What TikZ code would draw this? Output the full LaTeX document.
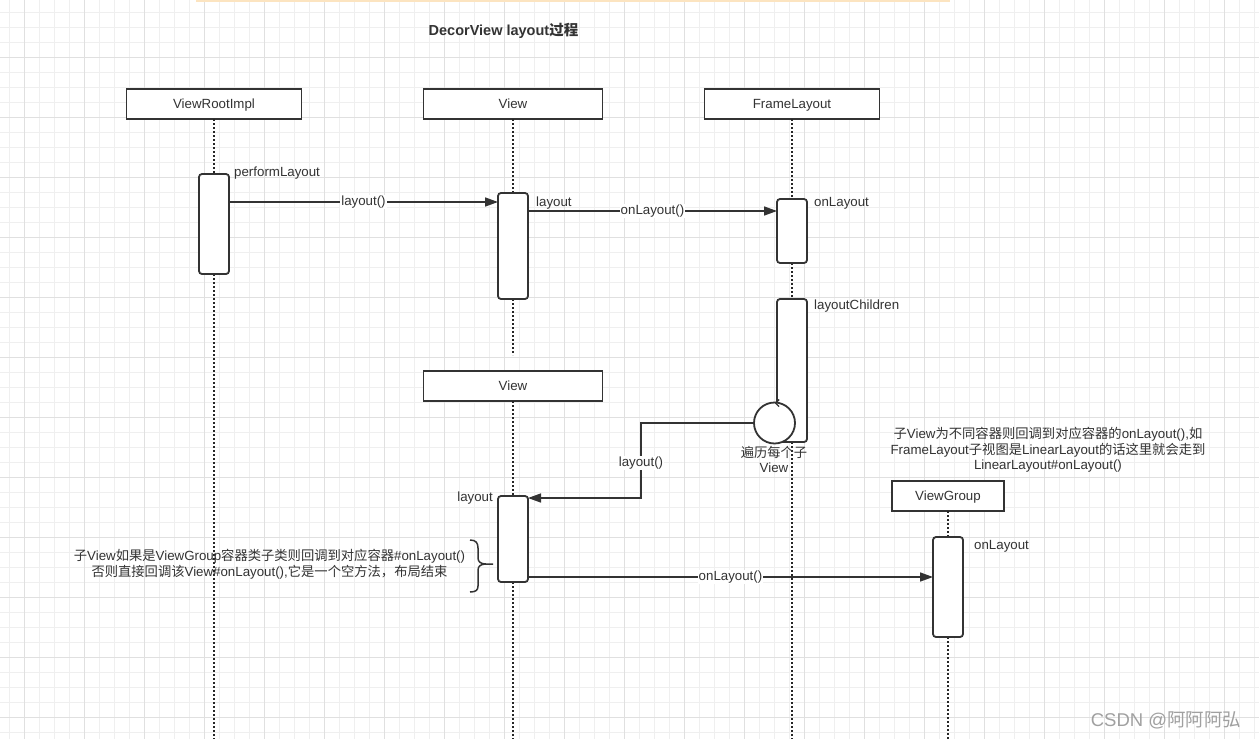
\documentclass[tikz,border=0pt]{standalone}
\usepackage{fontspec}
\setmainfont{Liberation Sans}
\newfontfamily\zhfont{Noto Sans CJK SC}
\newcommand\zh[1]{{\zhfont #1}}
\usetikzlibrary{arrows.meta,calc}
\definecolor{ink}{HTML}{333333}
\definecolor{gminor}{HTML}{EFEFEF}
\definecolor{gmajor}{HTML}{E0E0E0}
\definecolor{band}{HTML}{FCE4C0}
\definecolor{wm}{HTML}{A0A0A0}
\begin{document}
\begin{tikzpicture}[x=1pt,y=-1pt,
  every node/.style={text=ink, font=\fontsize{13.3}{15.5}\selectfont},
  header/.style={draw=ink, line width=1.6pt, fill=white, minimum height=30pt, inner sep=0pt, outer sep=0pt, text height=9.6pt, text depth=0pt},
  act/.style={draw=ink, line width=1.8pt, fill=white, rounded corners=3pt, minimum width=30pt, inner sep=0pt, outer sep=0pt, anchor=north west},
  life/.style={draw=black!85, line width=1.9pt, dash pattern=on 2pt off 2pt},
  msg/.style={draw=ink, line width=1.5pt, -{Triangle[length=13pt,width=9pt]}},
  lbl/.style={fill=white, inner sep=1pt},
  txt/.style={inner sep=0pt},
]
\useasboundingbox (0,0) rectangle (1259,739);
\fill[white] (0,0) rectangle (1259,739);
% grid
\foreach \x in {9.3,24.3,...,1259} \draw[gminor, line width=0.9pt] (\x,0) -- (\x,739);
\foreach \y in {12.7,27.7,...,739} \draw[gminor, line width=0.9pt] (0,\y) -- (1259,\y);
\foreach \x in {24.3,84.3,...,1259} \draw[gmajor, line width=0.9pt] (\x,0) -- (\x,739);
\foreach \y in {57.7,117.7,...,739} \draw[gmajor, line width=0.9pt] (0,\y) -- (1259,\y);
\fill[band] (196,0) rectangle (950,1.6);

% title
\node[txt, font=\fontsize{14.5}{17}\selectfont\bfseries] (title) at (503.5,31) {DecorView layout\zh{过程}};

% headers
\node[header, minimum width=175pt] (vri) at (214,104) {ViewRootImpl};
\node[header, minimum width=179pt] (v1) at (513,104) {View};
\node[header, minimum width=175pt] (fl) at (792,104) {FrameLayout};
\node[header, minimum width=179pt] (v2) at (513,386) {View};
\node[header, minimum width=112pt] (vg) at (948,496) {ViewGroup};

% activation placeholders (for lifelines)
\path (199,174) node[act, draw=none, fill=none, minimum height=100pt] (a1) {};
\path (498,193) node[act, draw=none, fill=none, minimum height=106pt] (a2) {};
\path (777,199) node[act, draw=none, fill=none, minimum height=64pt] (a3) {};
\path (777,299) node[act, draw=none, fill=none, minimum height=143pt] (a4) {};
\path (498,496) node[act, draw=none, fill=none, minimum height=86pt] (a5) {};
\path (933,537) node[act, draw=none, fill=none, minimum height=100pt] (a6) {};

% lifelines
\draw[life] (vri.south) -- (vri.south |- a1.north);
\draw[life] (a1.south) -- (a1.south |- 0,739);
\draw[life] (v1.south) -- (v1.south |- a2.north);
\coordinate (v1end) at (513,355);
\draw[life] (a2.south) -- (a2.south |- v1end);
\draw[life] (fl.south) -- (fl.south |- a3.north);
\draw[life] (a3.south) -- (a3.south |- a4.north);
\draw[life] (a4.south) -- (a4.south |- 0,739);
\draw[life] (v2.south) -- (v2.south |- a5.north);
\draw[life] (a5.south) -- (a5.south |- 0,739);
\draw[life] (vg.south) -- (vg.south |- a6.north);
\draw[life] (a6.south) -- (a6.south |- 0,739);

% activation boxes
\node[act, minimum height=100pt] (b1) at (199,174) {};
\node[act, minimum height=106pt] (b2) at (498,193) {};
\node[act, minimum height=64pt] (b3) at (777,199) {};
\node[act, minimum height=143pt] (b4) at (777,299) {};
\node[act, minimum height=86pt] (b5) at (498,496) {};
\node[act, minimum height=100pt] (b6) at (933,537) {};

% loop circle
\node[circle, draw=ink, line width=1.8pt, fill=white, minimum size=41pt, inner sep=0pt, outer sep=0pt] (loop) at (774.5,423) {};
\draw[ink, line width=1.4pt] (779,399.5) -- (775.5,403) -- (779,406.5);
\node[txt, align=center, font=\fontsize{13.3}{15}\selectfont] (looplbl) at (774,459.5) {\zh{遍历每个子}\\View};

% messages
\draw[msg] (b1.east |- 0,202) -- node[lbl]{layout()} (b2.west |- 0,202);
\draw[msg] (b2.east |- 0,211) -- node[lbl]{onLayout()} (b3.west |- 0,211);
\coordinate (c1) at (641,423);
\coordinate (c2) at (641,498);
\draw[msg] (loop.west) -- (c1) -- node[lbl, pos=0.53]{layout()} (c2) -- (b5.east |- c2);
\draw[msg] (b5.east |- 0,577) -- node[lbl]{onLayout()} (b6.west |- 0,577);

% method labels
\node[txt, anchor=base west] (l1) at (234,176.5) {performLayout};
\node[txt, anchor=base west] (l2) at (536,206.5) {layout};
\node[txt, anchor=base west] (l3) at (814,206.5) {onLayout};
\node[txt, anchor=base west] (l4) at (814,309.5) {layoutChildren};
\node[txt, anchor=base east] (l5) at (493,501.5) {layout};
\node[txt, anchor=base west] (l6) at (974,549.5) {onLayout};

% brace and note
\draw[ink, line width=1.5pt] (470,540) .. controls (476,540) and (478,543) .. (478,548) -- (478,558)
  .. controls (478,562) and (481,564) .. (486,564) -- (493,564)
  (486,564) .. controls (481,564) and (478,566) .. (478,570) -- (478,586)
  .. controls (478,590) and (476,592) .. (470,592);
\node[txt, align=center, font=\fontsize{13.3}{16}\selectfont] (note1) at (269.5,564)
  {\zh{子}View\zh{如果是}ViewGroup\zh{容器类子类则回调到对应容器}\#onLayout()\\
   \zh{否则直接回调该}View\#onLayout(),\zh{它是一个空方法，布局结束}};

\node[txt, align=center, font=\fontsize{13.3}{15.5}\selectfont] (note2) at (1048,450)
  {\zh{子}View\zh{为不同容器则回调到对应容器的}onLayout(),\zh{如}\\
   FrameLayout\zh{子视图是}LinearLayout\zh{的话这里就会走到}\\
   LinearLayout\#onLayout()};

% watermark
\node[txt, text=wm, font=\fontsize{18.5}{21}\selectfont] (wmk) at (1166,720) {CSDN @\zh{阿阿阿弘}};
\end{tikzpicture}
\end{document}
